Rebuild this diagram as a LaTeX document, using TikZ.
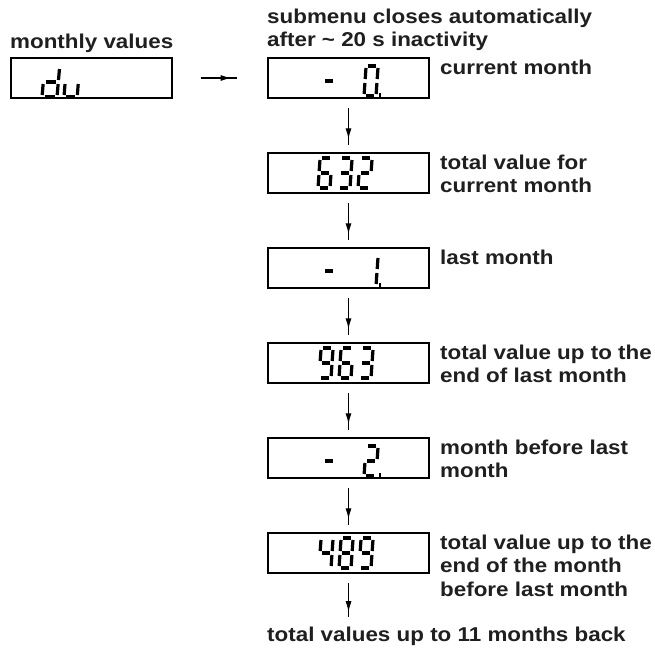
\documentclass[tikz,border=0pt]{standalone}
\usepackage{fontspec}
\newfontfamily\lblfont{Liberation Sans}[FakeStretch=1.12]
\usetikzlibrary{arrows.meta,decorations.markings,calc}

% seven-segment strokes; origin at the lower left of a digit cell, y grows downwards
\def\sga{(4.1,-30) -- (12.1,-30)}
\def\sgb{(13.96,-28) -- (13.19,-17)}
\def\sgc{(12.91,-13) -- (12.14,-2)}
\def\sgd{(2,0) -- (10,0)}
\def\sge{(0.91,-13) -- (0.14,-2)}
\def\sgf{(1.96,-28) -- (1.19,-17)}
\def\sgg{(3.05,-15) -- (11.05,-15)}
\def\sgp{(14.8,-1) -- (17.4,-1)}

% \segdigit[scope options]{x}{y}{list of lit segments}
\newcommand\segdigit[4][]{%
  \begin{scope}[shift={(#2,#3)},#1]
    \foreach \s in {#4}{\draw[segline] \csname sg\s\endcsname;}
  \end{scope}}

\begin{document}
\begin{tikzpicture}[x=1pt,y=-1pt,
  segline/.style={line width=3.2pt, draw=black},
  dispbox/.style={draw=black, line width=2pt, minimum width=161pt,
    minimum height=40.5pt, inner sep=0pt},
  lbl/.style={font=\lblfont\bfseries\fontsize{20}{23.5}\selectfont,
    text=black!88, inner sep=0pt, align=left, anchor=base west},
  conn/.style={draw=black, line width=1.2pt, postaction={decorate},
    decoration={markings, mark=at position 0.85 with
      {\arrow{Latex[length=11pt,width=6pt]}}}}]

\fill[white] (0,0) rectangle (655,648);
\useasboundingbox (0,0) rectangle (655,648);

% headings (a node's base is its last line)
\node[lbl] (hdr) at (267,46.5) {submenu closes automatically\\after \textasciitilde\ 20 s inactivity};
\node[lbl] (mv) at (10,48) {monthly values};

% displays
\node[dispbox] (dv) at (91,78) {};
\node[dispbox] (m0) at (348.5,78) {};
\node[dispbox] (m1) at (348.5,173) {};
\node[dispbox] (m2) at (348.5,268) {};
\node[dispbox] (m3) at (348.5,363) {};
\node[dispbox] (m4) at (348.5,458) {};
\node[dispbox] (m5) at (348.5,553) {};

% display contents
\segdigit[xscale=1.25]{42}{97}{b,c,d,e,g}
\segdigit[xscale=1.1]{64}{97}{c,d,e}

\segdigit{322}{96}{g}
\segdigit{364}{96}{a,b,c,d,e,f,p}

\segdigit{318}{188}{a,f,g,e,c,d}
\segdigit{338}{188}{a,b,g,c,d}
\segdigit{358}{188}{a,b,g,e,d}

\segdigit{322}{286}{g}
\segdigit{364}{286}{b,c,p}

\segdigit{319}{378}{a,b,c,d,f,g}
\segdigit{339}{378}{a,f,g,e,c,d}
\segdigit{359}{378}{a,b,g,c,d}

\segdigit{322}{476}{g}
\segdigit{364}{476}{a,b,g,e,d,p}

\segdigit{319}{568}{f,g,b,c}
\segdigit{339}{568}{a,b,c,d,e,f,g}
\segdigit{359}{568}{a,b,c,d,f,g}

% labels beside the displays
\node[lbl] (l0) at (440,74) {current month};
\node[lbl] (l1) at (440,192.5) {total value for\\current month};
\node[lbl] (l2) at (440,264) {last month};
\node[lbl] (l3) at (440,382.5) {total value up to the\\end of last month};
\node[lbl] (l4) at (440,477.5) {month before last\\month};
\node[lbl] (l5) at (440,596) {total value up to the\\end of the month\\before last month};
\node[lbl] (back) at (267,641) {total values up to 11 months back};

% connectors
\draw[conn] ($(dv.east)+(28,0)$) -- ($(m0.west)+(-30,0)$);
\draw[conn] ($(m0.south)+(0,9)$) -- ($(m1.north)+(0,-7)$);
\draw[conn] ($(m1.south)+(0,9)$) -- ($(m2.north)+(0,-7)$);
\draw[conn] ($(m2.south)+(0,9)$) -- ($(m3.north)+(0,-7)$);
\draw[conn] ($(m3.south)+(0,9)$) -- ($(m4.north)+(0,-7)$);
\draw[conn] ($(m4.south)+(0,9)$) -- ($(m5.north)+(0,-7)$);
\draw[conn] ($(m5.south)+(0,9)$) -- ($(m5.south |- back.north)+(0,-9)$);
\end{tikzpicture}
\end{document}
